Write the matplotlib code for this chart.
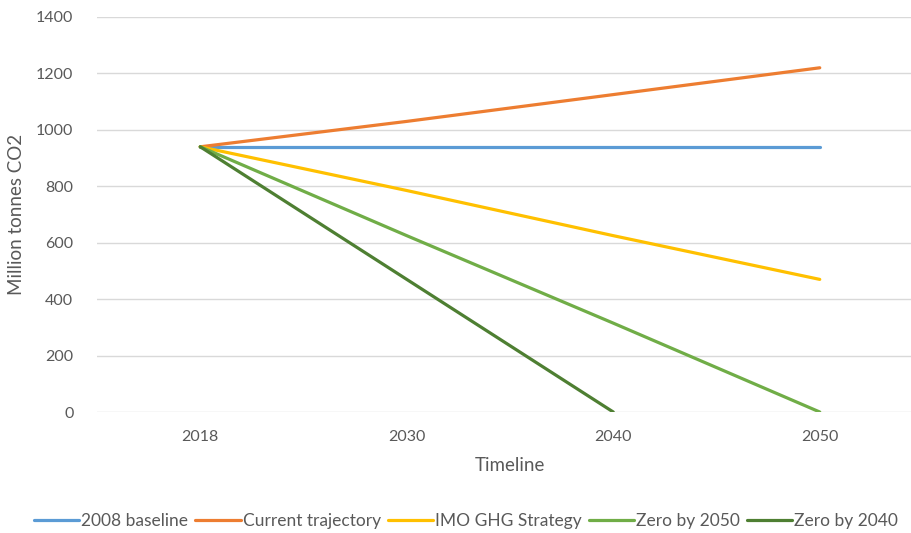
import numpy as np
import matplotlib.pyplot as plt

# Data
years = ['2018', '2030', '2040', '2050']
baseline_2008 = [940, 940, 940, 940]
current_trajectory = [940, 1030, 1125, 1220]
imo_ghg_strategy = [940, 785, 625, 470]
zero_by_2050 = [940, 625, 315, 0]
zero_by_2040 = [940, 470, 0, np.nan]

series = [
    ('2008 baseline', baseline_2008, '#5B9BD5'),
    ('Current trajectory', current_trajectory, '#ED7D31'),
    ('IMO GHG Strategy', imo_ghg_strategy, '#FFC000'),
    ('Zero by 2050', zero_by_2050, '#70AD47'),
    ('Zero by 2040', zero_by_2040, '#4E7F32'),
]

plt.rcParams['font.family'] = ['Lato', 'DejaVu Sans']

fig = plt.figure(figsize=(9.12, 5.33), dpi=100)
ax = fig.add_axes([97 / 912, 121 / 533, 826 / 912, 395 / 533])

x = np.arange(len(years))
for name, vals, color in series:
    ax.plot(x, vals, color=color, linewidth=2.3, label=name, solid_capstyle='round')

ax.set_xlim(-0.5, len(years) - 0.5)
ax.set_ylim(0, 1400)
ax.set_yticks(range(0, 1401, 200))
ax.set_xticks(x)
ax.set_xticklabels(years)
ax.grid(axis='y', color='#D9D9D9', linewidth=1)
ax.set_axisbelow(True)
for s in ax.spines.values():
    s.set_visible(False)
ax.tick_params(length=0, colors='#595959', labelsize=11.5)
ax.tick_params(axis='y', pad=17)
ax.tick_params(axis='x', pad=13)

ax.set_xlabel('Timeline', fontsize=13.5, color='#595959', labelpad=9)
ax.set_ylabel('Million tonnes CO2', fontsize=13.5, color='#595959', labelpad=8)

fig.legend(loc='center', bbox_to_anchor=(466 / 912, 0.022), ncol=5, frameon=False,
           fontsize=12.5, labelcolor='#595959', handlelength=2.6, handletextpad=0.12,
           columnspacing=0.4)

fig.savefig('out.png', dpi=100)
